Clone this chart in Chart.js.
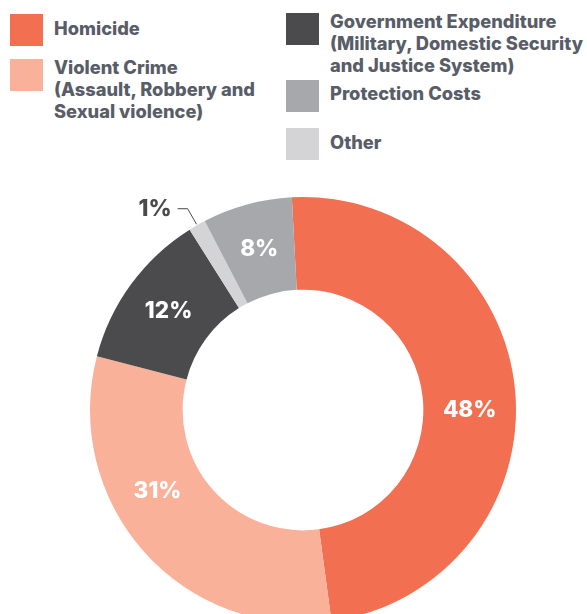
<!DOCTYPE html>
<html>
<head>
<meta charset="utf-8">
<script src="https://cdn.jsdelivr.net/npm/chart.js@4/dist/chart.umd.min.js"></script>
<style>
  html, body { margin: 0; padding: 0; background: #fff; }
  body { width: 587px; height: 614px; overflow: hidden; position: relative; font-family: Inter, "Noto Sans", sans-serif; }
  .sw { position: absolute; width: 33px; height: 32px; }
  .lt { position: absolute; font-size: 18.3px; font-weight: 800; line-height: 22px; color: #585d67; white-space: nowrap; }
  #wrap { position: absolute; left: 90px; top: 197px; width: 426px; height: 426px; }
</style>
</head>
<body>
<div id="legend"></div>
<div id="wrap"><canvas id="donutChart" width="426" height="426"></canvas></div>
<script>
// categories, slice shares (as drawn) and the printed percentages
const categories = ["Homicide", "Violent Crime", "Government Expenditure", "Other", "Protection Costs"]
const legendText = [
    ["Homicide"],
    ["Violent Crime", "(Assault, Robbery and", "Sexual violence)"],
    ["Government Expenditure", "(Military, Domestic Security", "and Justice System)"],
    ["Other"],
    ["Protection Costs"]
]
const shares = [48.7, 31.2, 12.0, 1.3, 6.8]
const pctText = ["48%", "31%", "12%", "1%", "8%"]
const colors = ["#f26f52", "#f9b199", "#4b4b4d", "#d4d4d6", "#a7a8ac"]

// legend, two columns laid out like the report graphic
const legendPos = [
    { sx: 10, sy: 14, tx: 54, ty: 17 },
    { sx: 10, sy: 59, tx: 54, ty: 56 },
    { sx: 286, sy: 13, tx: 330, ty: 10 },
    { sx: 286, sy: 128, tx: 330, ty: 131 },
    { sx: 286, sy: 80, tx: 330, ty: 82 }
]
var legendEl = document.getElementById("legend")
categories.forEach(function (c, i) {
    var p = legendPos[i]
    var sw = document.createElement("div")
    sw.className = "sw"
    sw.style.left = p.sx + "px"
    sw.style.top = p.sy + "px"
    sw.style.background = colors[i]
    legendEl.appendChild(sw)
    var t = document.createElement("div")
    t.className = "lt"
    t.style.left = p.tx + "px"
    t.style.top = p.ty + "px"
    t.innerHTML = legendText[i].join("<br>")
    legendEl.appendChild(t)
})

// labels on the slices, the small one outside with a leader line
// (the two big labels sit a bit off the middle angle, as in the original)
const angleShift = [5.4, 12.3, 0, 0, 0]
const sliceLabels = {
    id: "sliceLabels",
    afterDatasetsDraw(chart) {
        var ctx = chart.ctx
        var meta = chart.getDatasetMeta(0)
        ctx.save()
        ctx.font = "800 22.5px Inter, 'Noto Sans', sans-serif"
        ctx.textBaseline = "middle"
        meta.data.forEach(function (arc, i) {
            var mid = (arc.startAngle + arc.endAngle) / 2 + angleShift[i] * Math.PI / 180
            var cx = Math.cos(mid), cy = Math.sin(mid)
            if (shares[i] < 3) {
                var r0 = arc.outerRadius + 1, r1 = arc.outerRadius + 19
                var x1 = arc.x + cx * r1, y1 = arc.y + cy * r1
                ctx.strokeStyle = "#4b4b4d"
                ctx.lineWidth = 1
                ctx.beginPath()
                ctx.moveTo(arc.x + cx * r0, arc.y + cy * r0)
                ctx.lineTo(x1, y1)
                ctx.lineTo(x1 - 10, y1)
                ctx.stroke()
                ctx.fillStyle = "#4b4b4d"
                ctx.textAlign = "right"
                ctx.fillText(pctText[i], x1 - 16, y1 + 1)
            } else {
                var r = (arc.innerRadius + arc.outerRadius) / 2
                ctx.fillStyle = "#ffffff"
                ctx.textAlign = "center"
                ctx.fillText(pctText[i], arc.x + cx * r, arc.y + cy * r)
            }
        })
        ctx.restore()
    }
}

var ctxD = document.getElementById("donutChart").getContext("2d")
var myDonut = new Chart(ctxD, {
    type: "doughnut",
    data: {
        labels: categories,
        datasets: [{
            data: shares,
            backgroundColor: colors,
            borderWidth: 0
        }]
    },
    options: {
        responsive: false,
        animation: false,
        cutout: "56.5%",
        rotation: -3,
        layout: { padding: 0 },
        plugins: {
            legend: { display: false },
            tooltip: { enabled: false }
        }
    },
    plugins: [sliceLabels]
})
</script>
</body>
</html>
